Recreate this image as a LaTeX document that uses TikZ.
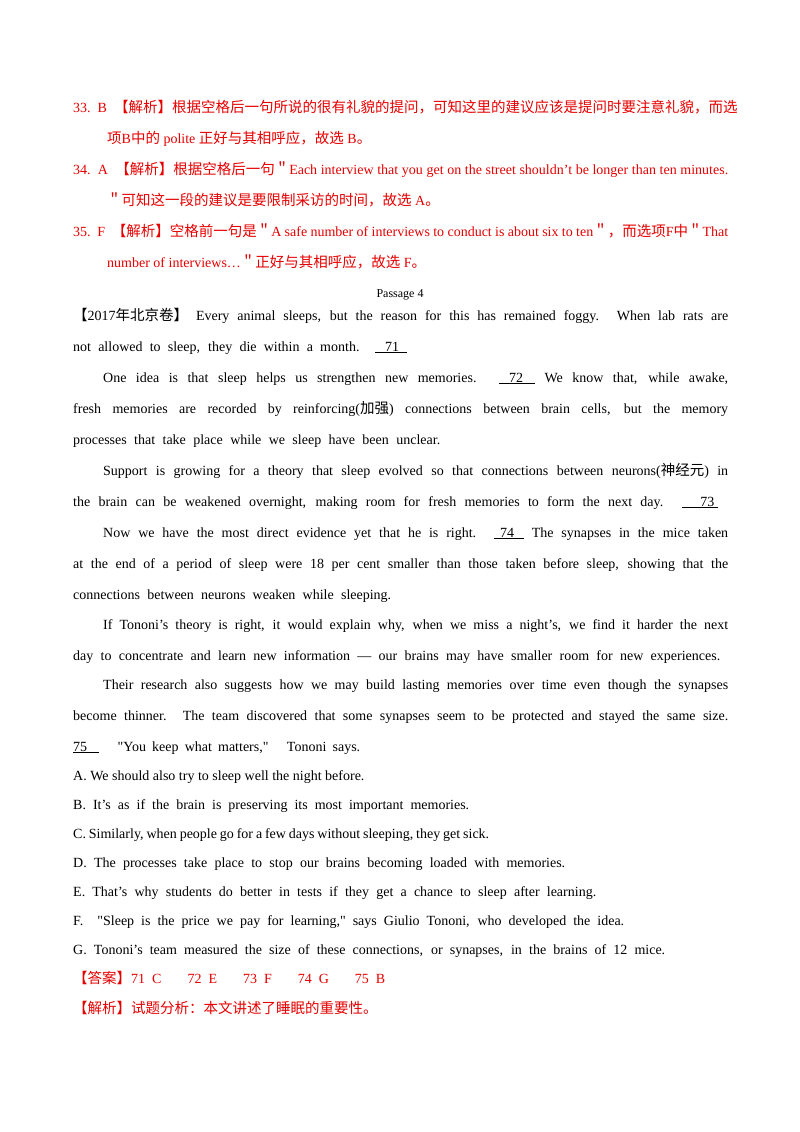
\documentclass[tikz,border=0pt]{standalone}
\usepackage{fontspec}
\setmainfont{Liberation Serif}
\newfontfamily\plainserif[Ligatures=TeXOff]{Liberation Serif}
\newfontfamily\cjk{Noto Sans CJK SC}
\newcommand\zh[1]{{\cjk\fontsize{14.5pt}{16pt}\selectfont #1}}
\newcommand\dq{{\plainserif"}}
\definecolor{ansred}{RGB}{230,0,0}
\begin{document}
\begin{tikzpicture}[x=1pt,y=-1pt,
  tl/.style={anchor=base west,inner sep=0pt,font=\fontsize{14pt}{16pt}\selectfont},
  red/.style={tl,text=ansred}]
\useasboundingbox (0,0) rectangle (800,1132);
% red answers
\node[red] (r1) at (73,112) {33.\ \ B\ \ \zh{【解析】根据空格后一句所说的很有礼貌的提问，可知这里的建议应该是提问时要注意礼貌，而选}};
\node[red] (r2) at (107,143) {\zh{项}B\zh{中的} polite \zh{正好与其相呼应，故选} B\zh{。}};
\node[red] (r3) at (73,174) {\makebox[655pt][s]{34.\ \ A\ \ \zh{【解析】根据空格后一句＂}Each interview that you get on the street shouldn’t be longer than ten minutes.}};
\node[red] (r4) at (107,205) {\zh{＂可知这一段的建议是要限制采访的时间，故选} A\zh{。}};
\node[red] (r5) at (73,236) {\makebox[655pt][s]{35.\ \ F\ \ \zh{【解析】空格前一句是＂}A safe number of interviews to conduct is about six to ten\zh{＂，而选项}F\zh{中＂}That}};
\node[red] (r6) at (107,267) {number of interviews…\zh{＂正好与其相呼应，故选} F\zh{。}};
\node[tl,anchor=base,font=\fontsize{12pt}{14pt}\selectfont] (p4) at (400,297) {Passage 4};
% passage
\node[tl] (a1) at (73,320) {\makebox[655pt][s]{\zh{【}2017\zh{年北京卷】} Every animal sleeps, but the reason for this has remained foggy. When lab rats are}};
\node[tl] (a2) at (73,351) {\makebox[334pt][s]{not allowed to sleep, they die within a month. \underline{\hspace{10pt}71\hspace{8pt}}}};
\node[tl] (a3) at (103,382) {\makebox[625pt][s]{One idea is that sleep helps us strengthen new memories. \underline{\hspace{10pt}72\hspace{12pt}} We know that, while awake,}};
\node[tl] (a4) at (73,413) {\makebox[655pt][s]{fresh memories are recorded by reinforcing(\zh{加强}) connections between brain cells, but the memory}};
\node[tl] (a5) at (73,444) {\makebox[367pt][s]{processes that take place while we sleep have been unclear.}};
\node[tl] (a6) at (103,475) {\makebox[625pt][s]{Support is growing for a theory that sleep evolved so that connections between neurons(\zh{神经元}) in}};
\node[tl] (a7) at (73,506) {\makebox[645pt][s]{the brain can be weakened overnight, making room for fresh memories to form the next day. \underline{\hspace{18pt}73\hspace{4pt}}}};
\node[tl] (a8) at (103,537) {\makebox[625pt][s]{Now we have the most direct evidence yet that he is right. \underline{\hspace{6pt}74\hspace{10pt}} The synapses in the mice taken}};
\node[tl] (a9) at (73,568) {\makebox[655pt][s]{at the end of a period of sleep were 18 per cent smaller than those taken before sleep, showing that the}};
\node[tl] (a10) at (73,599) {\makebox[318pt][s]{connections between neurons weaken while sleeping.}};
\node[tl] (a11) at (103,629) {\makebox[625pt][s]{If Tononi’s theory is right, it would explain why, when we miss a night’s, we find it harder the next}};
\node[tl] (a12) at (73,660) {\makebox[647pt][s]{day to concentrate and learn new information — our brains may have smaller room for new experiences.}};
\node[tl] (a13) at (103,689) {\makebox[625pt][s]{Their research also suggests how we may build lasting memories over time even though the synapses}};
\node[tl] (a14) at (73,720) {\makebox[655pt][s]{become thinner. The team discovered that some synapses seem to be protected and stayed the same size.}};
\node[tl] (a15) at (73,751) {\makebox[287pt][s]{\underline{75\hspace{12pt}}\ \ \ \dq You keep what matters,\dq\ \ \ Tononi says.}};
% options
\node[tl] (oA) at (73,780) {A. We should also try to sleep well the night before.};
\node[tl] (oB) at (73,809) {\makebox[396pt][s]{B. It’s as if the brain is preserving its most important memories.}};
\node[tl] (oC) at (73,838) {\makebox[416pt][s]{C. Similarly, when people go for a few days without sleeping, they get sick.}};
\node[tl] (oD) at (73,867) {\makebox[492pt][s]{D. The processes take place to stop our brains becoming loaded with memories.}};
\node[tl] (oE) at (73,896) {\makebox[523pt][s]{E. That’s why students do better in tests if they get a chance to sleep after learning.}};
\node[tl] (oF) at (73,925) {\makebox[551pt][s]{F.\ \ \dq Sleep is the price we pay for learning,\dq\ says Giulio Tononi, who developed the idea.}};
\node[tl] (oG) at (73,954) {\makebox[592pt][s]{G. Tononi’s team measured the size of these connections, or synapses, in the brains of 12 mice.}};
\node[red] (ans) at (73,983) {\zh{【答案】}71\ \ C\hspace{26pt}72\ \ E\hspace{26pt}73\ \ F\hspace{26pt}74\ \ G\hspace{26pt}75\ \ B};
\node[red] (ana) at (73,1013) {\zh{【解析】试题分析：本文讲述了睡眠的重要性。}};
\end{tikzpicture}
\end{document}
